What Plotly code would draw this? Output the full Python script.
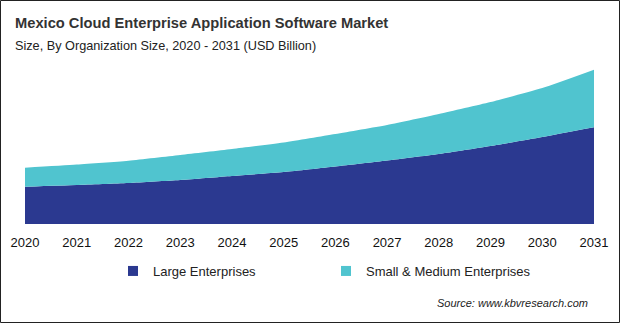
import plotly.graph_objects as go

years = [2020, 2021, 2022, 2023, 2024, 2025, 2026, 2027, 2028, 2029, 2030, 2031]
large = [0.373, 0.39, 0.41, 0.44, 0.48, 0.52, 0.575, 0.635, 0.70, 0.78, 0.87, 0.967]
sme = [0.19, 0.205, 0.223, 0.25, 0.27, 0.295, 0.325, 0.355, 0.40, 0.44, 0.49, 0.576]
series_names = ["Large Enterprises", "Small & Medium Enterprises"]
colors = ["#2B3990", "#50C4CF"]

W, H = 620, 323
L, R, T, B = 25, 26, 64, 99
pw, ph = W - L - R, H - T - B

def px(x):
    return (x - L) / pw

def py(y):
    # y in pixels from the top of the picture
    return (H - B - y) / ph

FONT = "Liberation Sans"

fig = go.Figure()
for name, vals, c in zip(series_names, [large, sme], colors):
    fig.add_trace(go.Scatter(
        x=years, y=vals, name=name, stackgroup="one", mode="lines",
        line=dict(width=0, color=c, shape="spline", smoothing=0.6),
        fillcolor=c, showlegend=False, hoverinfo="skip"))
    fig.add_trace(go.Scatter(
        x=[None], y=[None], name=name, mode="markers",
        marker=dict(symbol="square", size=10, color=c), showlegend=True))

fig.update_layout(
    width=W, height=H,
    margin=dict(l=L, r=R, t=T, b=B, autoexpand=False),
    paper_bgcolor="white", plot_bgcolor="white",
    xaxis=dict(range=[2020, 2031], tickmode="array", tickvals=years,
               ticktext=[str(y) for y in years], showgrid=False, zeroline=False,
               showline=False, ticks="", ticklabelstandoff=9,
               tickfont=dict(family=FONT, size=13, color="#111"),
               fixedrange=True),
    yaxis=dict(range=[0, 1.60], visible=False, fixedrange=True),
    showlegend=True,
    legend=dict(orientation="h", x=px(113), y=py(271), xanchor="left", yanchor="middle",
                entrywidth=168, entrywidthmode="pixels", itemwidth=30,
                font=dict(family=FONT, size=13, color="#222"), traceorder="normal"),
    annotations=[
        dict(text="<b>Mexico Cloud Enterprise Application Software Market</b>",
             xref="paper", yref="paper", x=px(13), y=py(23), xanchor="left",
             yanchor="middle", showarrow=False,
             font=dict(family=FONT, size=14.7, color="#333")),
        dict(text="Size, By Organization Size, 2020 - 2031 (USD Billion)",
             xref="paper", yref="paper", x=px(13), y=py(46), xanchor="left",
             yanchor="middle", showarrow=False,
             font=dict(family=FONT, size=12.7, color="#222")),
        dict(text="<i>Source: www.kbvresearch.com</i>",
             xref="paper", yref="paper", x=px(590), y=py(303), xanchor="right",
             yanchor="middle", showarrow=False,
             font=dict(family=FONT, size=11, color="#222")),
    ],
    shapes=[dict(type="rect", xref="paper", yref="paper", x0=px(0.5), x1=px(W - 0.5),
                 y0=py(H - 0.5), y1=py(0.5), line=dict(color="#222", width=1))],
)

fig.write_html("out.html")
